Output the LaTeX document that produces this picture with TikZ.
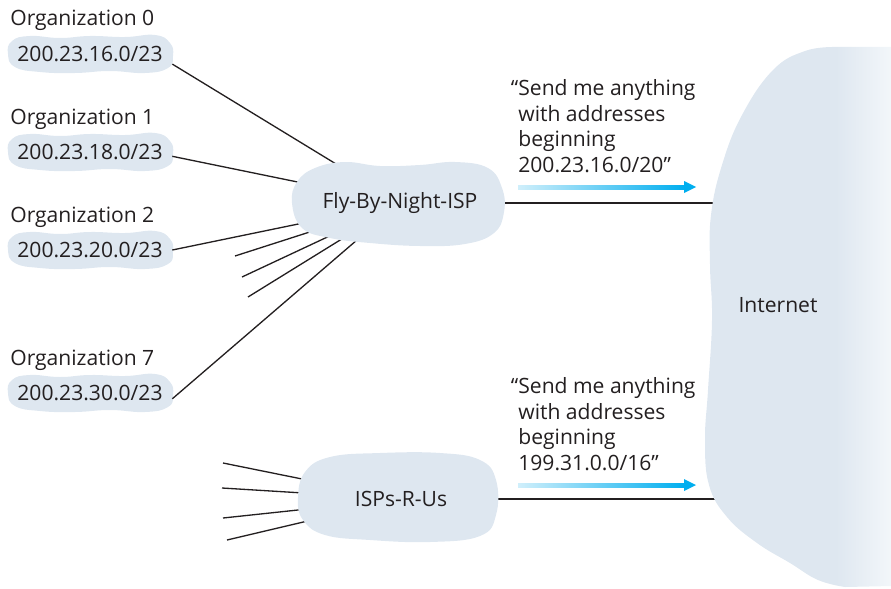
\documentclass[tikz,border=0pt]{standalone}
\usepackage{fontspec}
\setmainfont{Open Sans}
\usetikzlibrary{calc}
\definecolor{blobfill}{RGB}{222,231,240}
\definecolor{blobfade}{RGB}{243,247,250}
\definecolor{arrowblue}{RGB}{0,174,239}
\definecolor{arrowlight}{RGB}{208,239,251}
\definecolor{inktext}{RGB}{35,31,32}
\pgfdeclarehorizontalshading{inetshade}{100bp}{color(0bp)=(blobfill); color(25bp)=(blobfill);
  color(60bp)=(blobfill); color(75bp)=(blobfade); color(100bp)=(blobfade)}
\pgfdeclarelayer{bg}
\pgfsetlayers{bg,main}

\tikzset{
  labeltext/.style={font=\fontsize{12}{14.6}\selectfont, text=inktext, inner sep=0pt},
  prefixbox/.style={labeltext, minimum width=3.28cm, minimum height=0.72cm},
  link/.style={line width=0.75pt, draw=inktext},
}

\begin{document}
\begin{tikzpicture}[x=0.02cm, y=-0.02cm]
\useasboundingbox (0,0) rectangle (891,588);

% organizations with their /23 blocks
\foreach \i/\org/\pre/\y in {0/0/16/54, 1/1/18/152, 2/2/20/250, 3/7/30/393}{
  \node[prefixbox] (p\i) at (90,\y) {200.23.\pre.0/23};
  \node[labeltext, anchor=base west] (o\i) at (10,\y-28) {Organization \org};
  \begin{pgfonlayer}{bg}
    \fill[blobfill, shift={(90,\y)}] plot[smooth cycle, tension=0.8] coordinates {
      (-82,0) (-78,-13) (-60,-18) (-30,-16) (0,-18) (35,-17) (65,-19) (80,-11)
      (83,2) (78,14) (55,19) (20,17) (-15,19) (-50,18) (-75,13)};
  \end{pgfonlayer}
}

% the two ISPs and the Internet
\node[labeltext] (fbn) at (400,203) {Fly-By-Night-ISP};
\node[labeltext] (isp) at (401,499) {ISPs-R-Us};
\node[labeltext] (inet) at (778,305) {Internet};

% advertisements
\node[labeltext, anchor=north west, align=left] (adv1) at (518,79)
  {\llap{“}Send me anything\\with addresses\\beginning\\200.23.16.0/20”};
\node[labeltext, anchor=north west, align=left] (adv2) at (518,377)
  {\llap{“}Send me anything\\with addresses\\beginning\\199.31.0.0/16”};

\coordinate (a1) at (518,187);
\coordinate (a2) at (518,485);
\foreach \a in {a1,a2}{
  \shade[left color=arrowlight, right color=arrowblue] ($(\a)+(0,-2)$) rectangle ($(\a)+(167,2)$);
  \fill[arrowblue] ($(\a)+(166,-6)$) -- ($(\a)+(178,0)$) -- ($(\a)+(166,6)$) -- cycle;
}

% loose ends of the other customer links
\coordinate (f1) at (235,256);
\coordinate (f2) at (242,277);
\coordinate (f3) at (248,297);
\coordinate (r1) at (223,463);
\coordinate (r2) at (222,488);
\coordinate (r3) at (223,518);
\coordinate (r4) at (227,540);

\begin{pgfonlayer}{bg}
  % links, drawn under the clouds
  \draw[link] (p0.-7) -- (fbn.center);
  \draw[link] (p1.-3) -- (fbn.center);
  \draw[link] (p2.east) -- (fbn.center);
  \draw[link] (p3.-4) -- (fbn.center);
  \foreach \c in {f1,f2,f3}
    \draw[link] (\c) -- (fbn.center);
  \foreach \c in {r1,r2,r3,r4}
    \draw[link] (\c) -- (isp.center);
  \draw[link] (fbn.center) -- (fbn.center -| inet.center);
  \draw[link] (isp.center) -- (isp.center -| inet.center);

  % clouds
  \fill[blobfill] plot[smooth cycle, tension=0.7] coordinates {
    (292,203) (297,182) (315,168) (345,162) (380,166) (420,165) (455,162) (488,168)
    (502,188) (504,212) (494,233) (465,244) (420,246) (370,243) (330,238) (302,228)};
  \fill[blobfill] plot[smooth cycle, tension=0.7] coordinates {
    (298,498) (305,472) (330,457) (380,453) (440,453) (480,460) (496,480)
    (496,515) (480,536) (430,542) (370,540) (325,535) (303,520)};
  \shade[shading=inetshade]
    (892,47) -- plot[smooth, tension=0.7] coordinates {
      (835,47) (805,51) (773,70) (742,115) (722,165) (711,215) (710,265) (712,320)
      (708,390) (705,440) (709,485) (727,517) (757,543) (790,563) (818,580) (845,587)}
    -- (892,586) -- cycle;
\end{pgfonlayer}
\end{tikzpicture}
\end{document}
